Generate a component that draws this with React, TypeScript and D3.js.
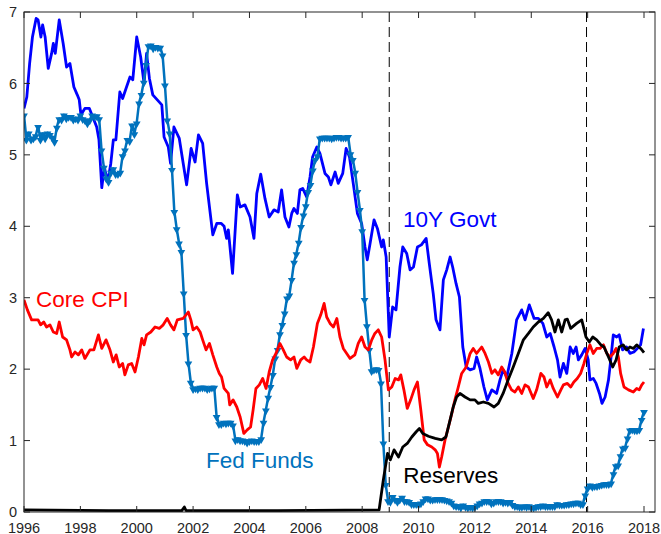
import React from 'react';
import * as d3 from 'd3';

// 10Y government yield as [year, percent]
const tenYear: [number, number][] = [
  [1996.0, 5.65], [1996.1, 5.81], [1996.2, 6.28], [1996.3, 6.65], [1996.43, 6.91], [1996.5, 6.89], [1996.6, 6.65],
  [1996.66, 6.82], [1996.75, 6.65], [1996.86, 6.21], [1996.98, 6.42], [1997.04, 6.56], [1997.11, 6.42], [1997.25, 6.89],
  [1997.39, 6.56], [1997.51, 6.23], [1997.63, 6.28], [1997.77, 5.95], [1997.89, 5.84], [1997.96, 5.77], [1998.02, 5.56],
  [1998.16, 5.65], [1998.32, 5.65], [1998.44, 5.53], [1998.58, 5.39], [1998.66, 5.21], [1998.76, 4.54], [1998.85, 4.83],
  [1998.97, 4.62], [1999.08, 4.88], [1999.17, 5.21], [1999.26, 5.21], [1999.4, 5.88], [1999.5, 5.79], [1999.62, 5.93],
  [1999.76, 6.09], [1999.86, 6.05], [2000.0, 6.65], [2000.14, 6.37], [2000.26, 6.0], [2000.35, 6.42], [2000.45, 6.07],
  [2000.57, 5.84], [2000.73, 5.77], [2000.89, 5.7], [2000.97, 5.25], [2001.12, 5.11], [2001.2, 4.88], [2001.32, 5.39],
  [2001.51, 5.23], [2001.65, 4.88], [2001.77, 4.58], [2001.93, 5.09], [2002.07, 4.9], [2002.19, 5.28], [2002.34, 5.16],
  [2002.48, 4.6], [2002.7, 3.88], [2002.84, 4.04], [2003.0, 4.04], [2003.1, 4.0], [2003.19, 3.83], [2003.25, 3.95],
  [2003.4, 3.34], [2003.57, 4.44], [2003.67, 4.27], [2003.84, 4.3], [2004.02, 4.13], [2004.16, 3.83], [2004.26, 4.46],
  [2004.4, 4.73], [2004.55, 4.39], [2004.7, 4.13], [2004.87, 4.23], [2005.02, 4.2], [2005.14, 4.51], [2005.26, 4.13],
  [2005.4, 3.99], [2005.5, 4.18], [2005.58, 4.25], [2005.7, 4.18], [2005.79, 4.51], [2005.89, 4.53], [2006.03, 4.41],
  [2006.15, 4.69], [2006.24, 4.97], [2006.39, 5.11], [2006.5, 5.02], [2006.68, 4.74], [2006.8, 4.69], [2006.89, 4.58],
  [2007.04, 4.76], [2007.15, 4.6], [2007.31, 4.74], [2007.43, 5.09], [2007.55, 4.97], [2007.69, 4.58], [2007.83, 4.18],
  [2007.98, 4.04], [2008.1, 3.71], [2008.18, 3.53], [2008.28, 3.76], [2008.42, 4.09], [2008.54, 3.97], [2008.69, 3.71],
  [2008.75, 3.81], [2008.85, 3.57], [2008.96, 2.45], [2009.08, 2.87], [2009.2, 2.83], [2009.34, 3.43], [2009.44, 3.71],
  [2009.58, 3.62], [2009.7, 3.39], [2009.82, 3.43], [2009.96, 3.71], [2010.1, 3.74], [2010.27, 3.83], [2010.38, 3.48],
  [2010.52, 3.06], [2010.62, 2.69], [2010.76, 2.55], [2010.88, 3.25], [2011.0, 3.39], [2011.12, 3.57], [2011.21, 3.43],
  [2011.33, 3.2], [2011.45, 3.01], [2011.57, 2.31], [2011.69, 2.03], [2011.83, 1.99], [2011.97, 2.01], [2012.06, 2.17],
  [2012.18, 2.01], [2012.32, 1.75], [2012.44, 1.57], [2012.6, 1.71], [2012.77, 1.66], [2012.89, 1.85], [2013.0, 1.99],
  [2013.13, 1.89], [2013.31, 2.22], [2013.48, 2.69], [2013.66, 2.83], [2013.78, 2.69], [2013.93, 2.9], [2014.1, 2.71],
  [2014.25, 2.71], [2014.41, 2.64], [2014.55, 2.45], [2014.67, 2.5], [2014.81, 2.31], [2014.93, 2.13], [2015.02, 1.89],
  [2015.14, 2.08], [2015.26, 1.94], [2015.38, 2.31], [2015.49, 2.22], [2015.59, 2.31], [2015.67, 2.13], [2015.79, 2.2],
  [2015.91, 2.29], [2016.02, 2.13], [2016.08, 1.85], [2016.2, 1.87], [2016.3, 1.8], [2016.42, 1.66], [2016.51, 1.52],
  [2016.62, 1.61], [2016.74, 1.85], [2016.82, 2.13], [2016.91, 2.48], [2017.03, 2.45], [2017.12, 2.48], [2017.24, 2.27],
  [2017.38, 2.31], [2017.5, 2.22], [2017.64, 2.24], [2017.76, 2.29], [2017.88, 2.34], [2017.98, 2.57],
];

// core CPI inflation
const coreCpi: [number, number][] = [
  [1996.0, 2.97], [1996.12, 2.83], [1996.27, 2.69], [1996.5, 2.69], [1996.59, 2.62], [1996.7, 2.66], [1996.8, 2.59],
  [1996.92, 2.62], [1997.04, 2.52], [1997.16, 2.5], [1997.25, 2.66], [1997.37, 2.45], [1997.51, 2.41], [1997.63, 2.27],
  [1997.69, 2.17], [1997.81, 2.24], [1997.93, 2.2], [1998.05, 2.27], [1998.16, 2.15], [1998.34, 2.27], [1998.48, 2.27],
  [1998.64, 2.48], [1998.76, 2.29], [1998.91, 2.41], [1999.05, 2.27], [1999.17, 2.1], [1999.27, 2.2], [1999.38, 2.03],
  [1999.5, 2.08], [1999.58, 1.92], [1999.7, 2.06], [1999.82, 2.08], [1999.94, 1.96], [2000.06, 2.17], [2000.18, 2.43],
  [2000.26, 2.34], [2000.35, 2.48], [2000.5, 2.52], [2000.65, 2.59], [2000.8, 2.57], [2000.94, 2.62], [2001.08, 2.71],
  [2001.2, 2.62], [2001.32, 2.55], [2001.44, 2.69], [2001.65, 2.71], [2001.83, 2.8], [2001.92, 2.69], [2002.0, 2.55],
  [2002.13, 2.59], [2002.25, 2.52], [2002.34, 2.41], [2002.46, 2.27], [2002.58, 2.36], [2002.7, 2.2], [2002.84, 2.03],
  [2002.93, 1.94], [2003.01, 1.89], [2003.1, 1.73], [2003.25, 1.66], [2003.3, 1.5], [2003.42, 1.57], [2003.55, 1.47],
  [2003.67, 1.33], [2003.8, 1.1], [2003.92, 1.15], [2004.04, 1.19], [2004.13, 1.43], [2004.23, 1.73], [2004.35, 1.78],
  [2004.47, 1.87], [2004.59, 1.73], [2004.7, 1.96], [2004.82, 2.13], [2004.94, 2.22], [2005.08, 2.36], [2005.2, 2.27],
  [2005.32, 2.17], [2005.46, 2.13], [2005.58, 2.17], [2005.68, 2.01], [2005.82, 2.13], [2005.94, 2.17], [2006.03, 2.13],
  [2006.15, 2.1], [2006.27, 2.31], [2006.41, 2.64], [2006.53, 2.76], [2006.65, 2.92], [2006.74, 2.73], [2006.86, 2.64],
  [2006.98, 2.59], [2007.1, 2.71], [2007.21, 2.45], [2007.33, 2.29], [2007.45, 2.22], [2007.57, 2.15], [2007.74, 2.2],
  [2007.86, 2.36], [2007.98, 2.45], [2008.1, 2.31], [2008.22, 2.27], [2008.34, 2.41], [2008.45, 2.5], [2008.57, 2.55],
  [2008.69, 2.45], [2008.81, 2.13], [2008.93, 1.71], [2009.05, 1.75], [2009.17, 1.87], [2009.29, 1.85], [2009.37, 1.92],
  [2009.48, 1.71], [2009.6, 1.45], [2009.72, 1.57], [2009.84, 1.71], [2009.96, 1.82], [2010.08, 1.43], [2010.2, 1.01],
  [2010.32, 0.94], [2010.47, 0.91], [2010.59, 0.87], [2010.67, 0.82], [2010.74, 0.63], [2010.82, 0.77], [2010.94, 1.01],
  [2011.06, 1.19], [2011.18, 1.38], [2011.29, 1.57], [2011.41, 1.75], [2011.53, 1.94], [2011.69, 2.03], [2011.83, 2.22],
  [2011.94, 2.29], [2012.06, 2.22], [2012.24, 2.31], [2012.36, 2.22], [2012.48, 2.1], [2012.6, 1.94], [2012.71, 1.99],
  [2012.83, 1.92], [2012.95, 2.03], [2013.06, 1.96], [2013.18, 1.8], [2013.3, 1.71], [2013.42, 1.68], [2013.54, 1.75],
  [2013.66, 1.66], [2013.78, 1.78], [2013.9, 1.75], [2014.07, 1.59], [2014.19, 1.71], [2014.34, 1.94], [2014.45, 1.89],
  [2014.55, 1.75], [2014.67, 1.85], [2014.78, 1.73], [2014.93, 1.61], [2015.05, 1.71], [2015.14, 1.78], [2015.28, 1.8],
  [2015.4, 1.75], [2015.51, 1.82], [2015.63, 1.87], [2015.75, 1.94], [2015.87, 2.08], [2015.97, 2.22], [2016.08, 2.34],
  [2016.2, 2.22], [2016.32, 2.29], [2016.44, 2.29], [2016.56, 2.34], [2016.68, 2.22], [2016.79, 2.17], [2016.91, 2.22],
  [2017.01, 2.29], [2017.09, 2.17], [2017.17, 1.94], [2017.29, 1.75], [2017.45, 1.71], [2017.62, 1.68], [2017.74, 1.73],
  [2017.83, 1.71], [2017.92, 1.78], [2018.0, 1.82],
];

// excess reserves (scaled)
const reserves: [number, number][] = [
  [1996.0, 0.03], [1999.0, 0.02], [2001.6, 0.02], [2001.69, 0.07], [2001.75, 0.02], [2005.0, 0.02], [2008.6, 0.03],
  [2008.75, 0.45], [2008.9, 0.82], [2009.0, 0.73], [2009.13, 0.87], [2009.29, 0.77], [2009.44, 0.91], [2009.6, 0.96],
  [2009.76, 1.05], [2009.91, 1.12], [2010.03, 1.17], [2010.15, 1.1], [2010.35, 1.06], [2010.59, 1.03], [2010.82, 1.01],
  [2010.97, 1.05], [2011.12, 1.29], [2011.23, 1.47], [2011.35, 1.61], [2011.47, 1.66], [2011.65, 1.61], [2011.83, 1.57],
  [2012.0, 1.57], [2012.12, 1.52], [2012.3, 1.54], [2012.48, 1.52], [2012.68, 1.47], [2012.83, 1.52], [2013.0, 1.66],
  [2013.18, 1.85], [2013.36, 2.03], [2013.54, 2.22], [2013.72, 2.41], [2013.9, 2.5], [2014.07, 2.59], [2014.25, 2.66],
  [2014.43, 2.71], [2014.6, 2.79], [2014.72, 2.69], [2014.84, 2.52], [2014.96, 2.69], [2015.08, 2.52], [2015.2, 2.69],
  [2015.28, 2.7], [2015.4, 2.57], [2015.61, 2.64], [2015.79, 2.69], [2015.94, 2.45], [2016.06, 2.38], [2016.18, 2.45],
  [2016.32, 2.41], [2016.47, 2.34], [2016.58, 2.31], [2016.74, 2.17], [2016.89, 2.03], [2017.01, 2.13], [2017.12, 2.31],
  [2017.26, 2.34], [2017.38, 2.27], [2017.5, 2.31], [2017.62, 2.29], [2017.74, 2.34], [2017.88, 2.29], [2018.0, 2.23],
];

// effective fed funds rate, monthly from Jan 1996
const fedFundsStart = 1996;
const fedFunds: number[] = [
  5.56, 5.22, 5.31, 5.22, 5.24, 5.27, 5.40, 5.22, 5.30, 5.24, 5.31, 5.29,
  5.25, 5.19, 5.39, 5.51, 5.50, 5.56, 5.52, 5.54, 5.54, 5.50, 5.52, 5.50,
  5.56, 5.51, 5.49, 5.45, 5.49, 5.56, 5.54, 5.55, 5.51, 5.07, 4.83, 4.68,
  4.63, 4.76, 4.81, 4.74, 4.74, 4.76, 4.99, 5.07, 5.22, 5.20, 5.42, 5.30,
  5.45, 5.73, 5.85, 6.02, 6.27, 6.53, 6.54, 6.50, 6.52, 6.51, 6.51, 6.40,
  5.98, 5.49, 5.31, 4.80, 4.21, 3.97, 3.77, 3.65, 3.07, 2.49, 2.09, 1.82,
  1.73, 1.74, 1.73, 1.75, 1.75, 1.75, 1.73, 1.74, 1.75, 1.75, 1.34, 1.24,
  1.24, 1.26, 1.25, 1.26, 1.26, 1.22, 1.01, 1.03, 1.01, 1.01, 1.00, 0.98,
  1.00, 1.01, 1.00, 1.00, 1.00, 1.03, 1.26, 1.43, 1.61, 1.76, 1.93, 2.16,
  2.28, 2.50, 2.63, 2.79, 3.00, 3.04, 3.26, 3.50, 3.62, 3.78, 4.00, 4.16,
  4.29, 4.49, 4.59, 4.79, 4.94, 4.99, 5.24, 5.25, 5.25, 5.25, 5.25, 5.24,
  5.25, 5.26, 5.26, 5.25, 5.25, 5.25, 5.26, 5.02, 4.94, 4.76, 4.49, 4.24,
  3.94, 2.98, 2.61, 2.28, 1.98, 2.00, 2.01, 2.00, 1.81, 0.97, 0.39, 0.16,
  0.15, 0.22, 0.18, 0.15, 0.18, 0.21, 0.16, 0.16, 0.15, 0.12, 0.12, 0.12,
  0.11, 0.13, 0.16, 0.20, 0.20, 0.18, 0.18, 0.19, 0.19, 0.19, 0.19, 0.18,
  0.17, 0.16, 0.14, 0.10, 0.09, 0.09, 0.07, 0.10, 0.08, 0.07, 0.08, 0.07,
  0.08, 0.10, 0.13, 0.14, 0.16, 0.16, 0.16, 0.13, 0.14, 0.16, 0.16, 0.16,
  0.14, 0.15, 0.14, 0.15, 0.11, 0.09, 0.09, 0.08, 0.08, 0.09, 0.08, 0.09,
  0.07, 0.07, 0.08, 0.09, 0.09, 0.10, 0.09, 0.09, 0.09, 0.09, 0.09, 0.12,
  0.11, 0.11, 0.11, 0.12, 0.12, 0.13, 0.13, 0.14, 0.14, 0.12, 0.12, 0.24,
  0.34, 0.38, 0.36, 0.37, 0.37, 0.38, 0.39, 0.40, 0.40, 0.40, 0.41, 0.54,
  0.65, 0.66, 0.79, 0.90, 0.91, 1.04, 1.15, 1.16, 1.15, 1.15, 1.16, 1.30,
  1.41,
];

// FOMC dates marked with dashed lines (Dec 16 2008, Dec 16 2015)
const eventDates = [2008.96, 2015.96];

const xTicks = [1996, 1998, 2000, 2002, 2004, 2006, 2008, 2010, 2012, 2014, 2016, 2018];
const yTicks = [0, 1, 2, 3, 4, 5, 6, 7];

const labels = [
  { text: '10Y Govt', year: 2009.45, value: 3.99, color: '#0000ff' },
  { text: 'Core CPI', year: 1996.43, value: 2.87, color: '#ff0000' },
  { text: 'Fed Funds', year: 2002.46, value: 0.62, color: '#0072bd' },
  { text: 'Reserves', year: 2009.46, value: 0.4, color: '#000000' },
];

export default function App() {
  const width = 661;
  const height = 534;
  const margin = { top: 12, right: 6, bottom: 22, left: 24 };
  const innerW = width - margin.left - margin.right;
  const innerH = height - margin.top - margin.bottom;

  const x = d3.scaleLinear().domain([1996, 2018.39]).range([0, innerW]);
  const y = d3.scaleLinear().domain([0, 7]).range([innerH, 0]);

  const line = d3.line<[number, number]>()
    .x(d => x(d[0]))
    .y(d => y(d[1]));

  const ffPoints: [number, number][] = fedFunds.map((v, i) => [fedFundsStart + i / 12, v]);
  const tri = d3.symbol().type(d3.symbolTriangle).size(26)();

  const font = '"Liberation Sans", Arial, Helvetica, sans-serif';
  const axisColor = '#262626';

  return (
    <svg width={width} height={height} style={{ position: 'absolute', left: 0, top: 0, background: '#fff' }} fontFamily={font}>
      <g transform={`translate(${margin.left},${margin.top})`}>
        <defs>
          <clipPath id="plot-clip">
            <rect x={0} y={-2} width={innerW} height={innerH + 2} />
          </clipPath>
        </defs>

        {/* event lines */}
        {eventDates.map(d => (
          <line key={d} x1={x(d)} x2={x(d)} y1={0} y2={innerH} stroke="#000" strokeWidth={1} strokeDasharray="10 5" />
        ))}

        <g clipPath="url(#plot-clip)">
          <path d={line(tenYear) || ''} fill="none" stroke="#0000ff" strokeWidth={2.8} strokeLinejoin="round" />
          <path d={line(ffPoints) || ''} fill="none" stroke="#0072bd" strokeWidth={2.5} strokeLinejoin="round" />
          {ffPoints.map((d, i) => (
            <path key={i} d={tri || ''} transform={`translate(${x(d[0])},${y(d[1]) + 1}) rotate(180)`} fill="#0072bd" />
          ))}
          <path d={line(coreCpi) || ''} fill="none" stroke="#ff0000" strokeWidth={2.8} strokeLinejoin="round" />
          <path d={line(reserves) || ''} fill="none" stroke="#000000" strokeWidth={2.8} strokeLinejoin="round" />
        </g>

        {/* series labels */}
        {labels.map(l => (
          <text key={l.text} x={x(l.year)} y={y(l.value)} fill={l.color} fontSize={22.5}>{l.text}</text>
        ))}

        {/* axes box */}
        <rect x={0} y={0} width={innerW} height={innerH} fill="none" stroke={axisColor} strokeWidth={1} />

        {xTicks.map(t => (
          <g key={t}>
            <line x1={x(t)} x2={x(t)} y1={innerH} y2={innerH - 6} stroke={axisColor} />
            <line x1={x(t)} x2={x(t)} y1={0} y2={6} stroke={axisColor} />
            <text x={x(t)} y={innerH + 20.5} textAnchor="middle" fontSize={14.5} fill={axisColor}>{t}</text>
          </g>
        ))}
        {yTicks.map(t => (
          <g key={t}>
            <line x1={0} x2={6} y1={y(t)} y2={y(t)} stroke={axisColor} />
            <line x1={innerW} x2={innerW - 6} y1={y(t)} y2={y(t)} stroke={axisColor} />
            <text x={-7} y={y(t)} dy="0.35em" textAnchor="end" fontSize={14.5} fill={axisColor}>{t}</text>
          </g>
        ))}
      </g>
    </svg>
  );
}
